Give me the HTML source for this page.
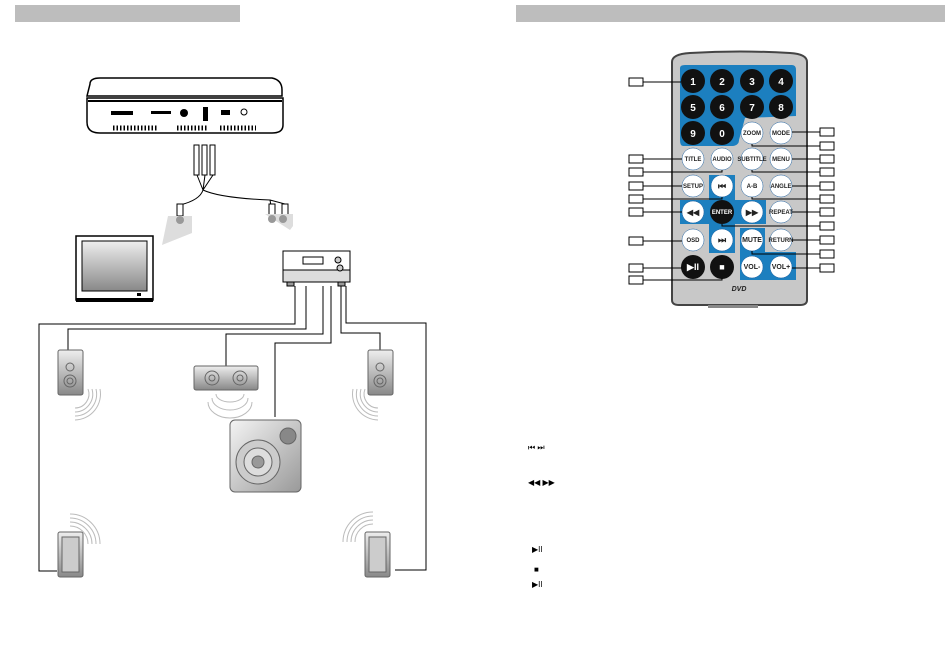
<!DOCTYPE html>
<html><head><style>
body{margin:0;background:#fff;}
svg{display:block;font-family:"Liberation Sans",sans-serif;}
</style></head><body>
<svg width="950" height="662" viewBox="0 0 950 662" xmlns="http://www.w3.org/2000/svg">
<defs>
<linearGradient id="g1" x1="0" y1="0" x2="0" y2="1"><stop offset="0" stop-color="#eee"/><stop offset="1" stop-color="#888"/></linearGradient>
<linearGradient id="g2" x1="0" y1="0" x2="1" y2="1"><stop offset="0" stop-color="#f4f4f4"/><stop offset="1" stop-color="#999"/></linearGradient>
</defs>
<rect x="15" y="5" width="225" height="17" fill="#bdbdbd"/>
<rect x="516" y="5" width="429" height="17" fill="#bdbdbd"/>

<!-- DVD player -->
<path d="M90 84 Q90 78 100 78 L272 78 Q282 80 282 90 L282 96 L87 96 Z" fill="#fff" stroke="#000" stroke-width="1.5"/>
<path d="M87 98 L283 98 L283 125 Q283 133 272 133 L100 133 Q87 133 87 122 Z" fill="#fff" stroke="#000" stroke-width="1.5"/>
<line x1="88" y1="101" x2="282" y2="101" stroke="#000" stroke-width="2"/>
<rect x="111" y="111" width="22" height="4" fill="#000"/><rect x="151" y="111" width="20" height="3" fill="#000"/>
<circle cx="184" cy="113" r="4" fill="#000"/><rect x="203" y="107" width="5" height="14" fill="#000"/>
<rect x="221" y="110" width="9" height="5" fill="#000"/><circle cx="244" cy="112" r="3" fill="none" stroke="#000"/>
<path d="M113 128 h45 M177 128 h30 M220 128 h36" stroke="#000" stroke-width="5" stroke-dasharray="1.5 2"/>
<!-- cables -->
<g stroke="#000" fill="#fff">
<rect x="194" y="145" width="5" height="30"/><rect x="202" y="145" width="5" height="30"/><rect x="210" y="145" width="5" height="30"/>
</g>
<path d="M197 175 L203 190 M205 175 L203 190 M213 175 L203 190 Q200 200 180 205 L180 214 M203 190 Q220 198 270 200 L272 212 M270 200 L285 204 L285 212" fill="none" stroke="#000"/>
<rect x="177" y="204" width="6" height="12" fill="#fff" stroke="#000"/>
<rect x="269" y="204" width="6" height="12" fill="#fff" stroke="#000"/><rect x="282" y="204" width="6" height="12" fill="#fff" stroke="#000"/>
<path d="M168 216 L192 216 L192 233 L162 245 Z" fill="#ddd"/>
<path d="M265 214 L293 214 L293 226 L290 230 Z" fill="#ddd"/>
<circle cx="180" cy="220" r="4" fill="#999"/><circle cx="272" cy="219" r="4" fill="#999"/><circle cx="283" cy="219" r="4" fill="#999"/>
<!-- TV -->
<rect x="76" y="236" width="77" height="64" fill="#fff" stroke="#000" stroke-width="1.5"/>
<rect x="82" y="241" width="65" height="50" fill="url(#g1)" stroke="#000"/>
<rect x="76" y="298" width="77" height="4" fill="#000"/><rect x="137" y="293" width="4" height="3" fill="#000"/>
<!-- receiver -->
<rect x="283" y="251" width="67" height="20" fill="#fff" stroke="#000"/>
<rect x="283" y="270" width="67" height="12" fill="#ddd" stroke="#000"/>
<rect x="303" y="257" width="20" height="7" fill="#fff" stroke="#000"/>
<circle cx="338" cy="260" r="3" fill="#ccc" stroke="#000"/><circle cx="340" cy="268" r="3" fill="#ccc" stroke="#000"/>
<rect x="287" y="282" width="7" height="4" fill="#999" stroke="#000"/><rect x="338" y="282" width="7" height="4" fill="#999" stroke="#000"/>
<!-- wires -->
<g fill="none" stroke="#000" stroke-width="1">
<path d="M295 286 V324 H39 V571 H57"/>
<path d="M306 286 V329 H68 V350"/>
<path d="M323 286 V334 H226 V366"/>
<path d="M331 286 V343 H275 V417"/>
<path d="M341 286 V333 H380 V350"/>
<path d="M346 286 V323 H426 V570 H395"/>
</g>
<!-- speakers -->
<g stroke="#666">
<rect x="58" y="350" width="25" height="45" rx="2" fill="url(#g1)"/>
<circle cx="70" cy="367" r="4" fill="none"/><circle cx="70" cy="381" r="6" fill="none"/><circle cx="70" cy="381" r="3" fill="none"/>
<rect x="368" y="350" width="25" height="45" rx="2" fill="url(#g1)"/>
<circle cx="380" cy="367" r="4" fill="none"/><circle cx="380" cy="381" r="6" fill="none"/><circle cx="380" cy="381" r="3" fill="none"/>
<rect x="194" y="366" width="64" height="24" rx="2" fill="url(#g1)"/>
<circle cx="212" cy="378" r="7" fill="none"/><circle cx="212" cy="378" r="3" fill="none"/>
<circle cx="240" cy="378" r="7" fill="none"/><circle cx="240" cy="378" r="3" fill="none"/>
<rect x="230" y="420" width="71" height="72" rx="5" fill="url(#g2)"/>
<circle cx="258" cy="462" r="22" fill="#ccc"/><circle cx="258" cy="462" r="14" fill="#ddd"/><circle cx="258" cy="462" r="6" fill="#999"/>
<circle cx="288" cy="436" r="8" fill="#888"/>
<rect x="58" y="532" width="25" height="45" rx="2" fill="url(#g1)"/><rect x="62" y="537" width="17" height="35" fill="#ccc"/>
<rect x="365" y="532" width="25" height="45" rx="2" fill="url(#g1)"/><rect x="369" y="537" width="17" height="35" fill="#ccc"/>
</g>
<g fill="none" stroke="#bbb" stroke-width="1">
<path d="M75 420 A26 26 0 0 0 100 389 M75 416 A22 22 0 0 0 96 389 M75 412 A18 18 0 0 0 92 389 M75 408 A14 14 0 0 0 88 389"/>
<path d="M378 420 A26 26 0 0 1 353 389 M378 416 A22 22 0 0 1 357 389 M378 412 A18 18 0 0 1 361 389 M378 408 A14 14 0 0 1 365 389"/>
<path d="M208 402 A22 16 0 0 0 252 402 M212 398 A18 12 0 0 0 248 398 M216 394 A14 8 0 0 0 244 394"/>
<path d="M70 514 A30 30 0 0 1 100 544 M70 518 A26 26 0 0 1 96 544 M70 522 A22 22 0 0 1 92 544 M70 526 A18 18 0 0 1 88 544"/>
<path d="M373 512 A30 30 0 0 0 343 542 M373 516 A26 26 0 0 0 347 542 M373 520 A22 22 0 0 0 351 542 M373 524 A18 18 0 0 0 355 542"/>
</g>

<!-- Remote -->
<path d="M672 62 Q672 54 690 53 Q740 50 790 53 Q807 54 807 62 L807 300 Q807 305 800 305 L679 305 Q672 305 672 300 Z" fill="#c8c8c8" stroke="#444" stroke-width="2"/>
<rect x="708" y="305" width="50" height="3" fill="#888"/>
<path d="M680 68 Q680 65 685 65 L792 65 Q796 65 796 70 L796 116 L745 118 L739 140 Q739 145 733 146 L683 146 Q680 146 680 140 Z" fill="#1c7fbf"/>
<path d="M709 175 L735 175 L735 200 L766 200 L766 224 L735 224 L735 253 L709 253 L709 224 L680 224 L680 200 L709 200 Z" fill="#1c7fbf"/>
<path d="M740 228 L765 228 L765 252 L796 252 L796 280 L740 280 Z" fill="#1c7fbf" rx="6"/>
<g font-size="10" font-weight="bold" text-anchor="middle" fill="#fff">
<g fill="#111"><circle cx="693" cy="81" r="12"/><circle cx="722" cy="81" r="12"/><circle cx="752" cy="81" r="12"/><circle cx="781" cy="81" r="12"/>
<circle cx="693" cy="107" r="12"/><circle cx="722" cy="107" r="12"/><circle cx="752" cy="107" r="12"/><circle cx="781" cy="107" r="12"/>
<circle cx="693" cy="133" r="12"/><circle cx="722" cy="133" r="12"/><circle cx="722" cy="212" r="12"/><circle cx="693" cy="267" r="12"/><circle cx="722" cy="267" r="12"/></g>
<text x="693" y="85">1</text><text x="722" y="85">2</text><text x="752" y="85">3</text><text x="781" y="85">4</text>
<text x="693" y="111">5</text><text x="722" y="111">6</text><text x="752" y="111">7</text><text x="781" y="111">8</text>
<text x="693" y="137">9</text><text x="722" y="137">0</text>
</g>
<g fill="#fff" stroke="#1c5f9f" stroke-width="0.5">
<circle cx="752" cy="133" r="11"/><circle cx="781" cy="133" r="11"/>
<circle cx="693" cy="159" r="11"/><circle cx="722" cy="159" r="11"/><circle cx="752" cy="159" r="11"/><circle cx="781" cy="159" r="11"/>
<circle cx="693" cy="186" r="11"/><circle cx="722" cy="186" r="11"/><circle cx="752" cy="186" r="11"/><circle cx="781" cy="186" r="11"/>
<circle cx="693" cy="212" r="11"/><circle cx="752" cy="212" r="11"/><circle cx="781" cy="212" r="11"/>
<circle cx="693" cy="240" r="11"/><circle cx="722" cy="240" r="11"/><circle cx="752" cy="240" r="11"/><circle cx="781" cy="240" r="11"/>
<circle cx="752" cy="267" r="11"/><circle cx="781" cy="267" r="11"/>
</g>
<g font-size="6" font-weight="bold" text-anchor="middle" fill="#222">
<text x="752" y="135">ZOOM</text><text x="781" y="135">MODE</text>
<text x="693" y="161">TITLE</text><text x="722" y="161">AUDIO</text><text x="752" y="161">SUBTITLE</text><text x="781" y="161">MENU</text>
<text x="693" y="188">SETUP</text><text x="722" y="189" font-size="9">⏮</text><text x="752" y="188">A-B</text><text x="781" y="188">ANGLE</text>
<text x="693" y="215" font-size="8">◀◀</text><text x="722" y="214" fill="#fff">ENTER</text><text x="752" y="215" font-size="8">▶▶</text><text x="781" y="214">REPEAT</text>
<text x="693" y="242">OSD</text><text x="722" y="243" font-size="9">⏭</text><text x="752" y="242" font-size="7">MUTE</text><text x="781" y="242">RETURN</text>
<text x="693" y="270" fill="#fff" font-size="9">▶II</text><text x="722" y="270" fill="#fff" font-size="9">■</text><text x="752" y="269" font-size="7">VOL-</text><text x="781" y="269" font-size="7">VOL+</text>
<text x="739" y="291" font-size="7" font-style="italic">DVD</text>
</g>
<!-- callouts -->
<g fill="#fff" stroke="#000" stroke-width="1">
<rect x="629" y="78" width="14" height="8"/><rect x="629" y="155" width="14" height="8"/><rect x="629" y="168" width="14" height="8"/>
<rect x="629" y="182" width="14" height="8"/><rect x="629" y="195" width="14" height="8"/><rect x="629" y="208" width="14" height="8"/>
<rect x="629" y="237" width="14" height="8"/><rect x="629" y="264" width="14" height="8"/><rect x="629" y="276" width="14" height="8"/>
<rect x="820" y="128" width="14" height="8"/><rect x="820" y="142" width="14" height="8"/><rect x="820" y="155" width="14" height="8"/>
<rect x="820" y="168" width="14" height="8"/><rect x="820" y="182" width="14" height="8"/><rect x="820" y="195" width="14" height="8"/>
<rect x="820" y="208" width="14" height="8"/><rect x="820" y="222" width="14" height="8"/><rect x="820" y="236" width="14" height="8"/>
<rect x="820" y="250" width="14" height="8"/><rect x="820" y="264" width="14" height="8"/>
</g>
<g stroke="#000" fill="none" stroke-width="1">
<path d="M643 82 H681"/><path d="M643 159 H682"/><path d="M643 172 H722 V170"/><path d="M643 186 H682"/><path d="M643 199 H722 V197"/>
<path d="M643 212 H682"/><path d="M643 241 H682"/><path d="M643 268 H682"/><path d="M643 280 H722 V278"/>
<path d="M820 132 H792"/><path d="M820 146 H752 V144"/><path d="M820 159 H792"/><path d="M820 172 H752 V170"/><path d="M820 186 H792"/>
<path d="M820 199 H752 V197"/><path d="M820 212 H792"/><path d="M820 226 H722 V224"/><path d="M820 240 H792"/><path d="M820 254 H752 V251"/><path d="M820 268 H792"/>
</g>
<g font-size="8" fill="#000">
<text x="528" y="450">⏮ ⏭</text><text x="528" y="485">◀◀ ▶▶</text><text x="532" y="552">▶II</text><text x="534" y="572">■</text><text x="532" y="587">▶II</text>
</g>
</svg>
</body></html>
